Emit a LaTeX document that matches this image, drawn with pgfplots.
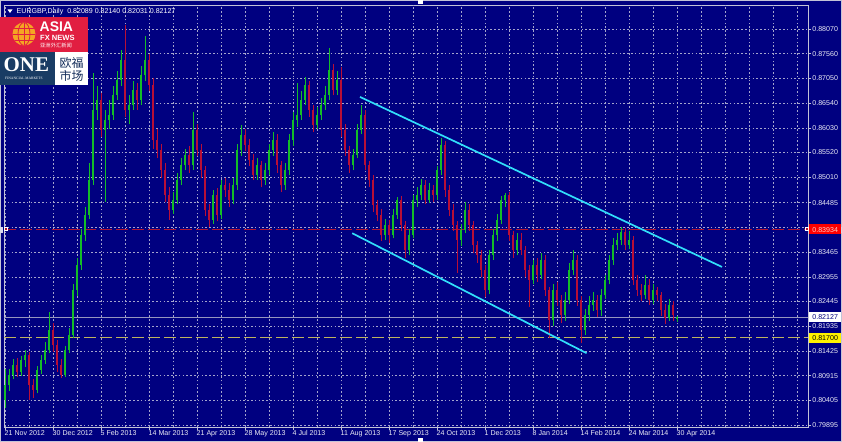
\documentclass[border=0pt]{standalone}
\usepackage{fontspec}
\setmainfont{Liberation Sans}
\newfontfamily\cjk{Noto Sans CJK SC}
\newfontfamily\serifx{Liberation Serif}
\usepackage{pgfplots}
\usepackage{pgfplotstable}
\pgfplotsset{compat=1.18}
\definecolor{bg}{RGB}{0,0,128}
\definecolor{upg}{RGB}{20,190,40}
\definecolor{dnr}{RGB}{185,15,55}
\definecolor{gridc}{RGB}{165,165,205}
\definecolor{framec}{RGB}{195,195,215}
\definecolor{lab}{RGB}{235,235,245}
\definecolor{chan}{RGB}{50,222,250}
\definecolor{redl}{RGB}{175,20,50}
\definecolor{yel}{RGB}{190,180,95}
\definecolor{curp}{RGB}{150,150,190}
\definecolor{logored}{RGB}{225,30,65}
\definecolor{globe}{RGB}{245,165,35}
\definecolor{onenavy}{RGB}{25,60,100}
\definecolor{cjknavy}{RGB}{20,45,90}

\pgfplotstableread{
x L H lo hi
0 0.8025 0.8105 0.8041 0.8072
1 0.8060 0.8105 0.8072 0.8093
2 0.8085 0.8125 0.8093 0.8114
4 0.8090 0.8133 0.8099 0.8124
5 0.8110 0.8145 0.8124 0.8134
8 0.8055 0.8112 0.8062 0.8103
9 0.8095 0.8135 0.8103 0.8124
10 0.8115 0.8160 0.8124 0.8145
11 0.8138 0.8223 0.8145 0.8186
15 0.8088 0.8152 0.8093 0.8145
16 0.8138 0.8190 0.8145 0.8176
17 0.8170 0.8280 0.8176 0.8268
18 0.8255 0.8335 0.8268 0.8320
19 0.8310 0.8395 0.8320 0.8382
20 0.8370 0.8440 0.8382 0.8423
21 0.8415 0.8530 0.8423 0.8495
22 0.8485 0.8716 0.8495 0.8640
23 0.8620 0.8690 0.8640 0.8661
25 0.8450 0.8640 0.8599 0.8619
26 0.8600 0.8660 0.8619 0.8630
27 0.8620 0.8690 0.8630 0.8671
28 0.8660 0.8720 0.8671 0.8702
29 0.8690 0.8764 0.8702 0.8743
31 0.8610 0.8670 0.8640 0.8650
32 0.8640 0.8700 0.8650 0.8681
34 0.8650 0.8730 0.8661 0.8712
35 0.8700 0.8793 0.8712 0.8743
42 0.8425 0.8470 0.8434 0.8454
43 0.8445 0.8510 0.8454 0.8495
44 0.8485 0.8540 0.8495 0.8526
45 0.8515 0.8560 0.8526 0.8547
47 0.8515 0.8636 0.8526 0.8599
52 0.8405 0.8475 0.8413 0.8464
54 0.8415 0.8495 0.8423 0.8485
57 0.8445 0.8500 0.8454 0.8485
58 0.8475 0.8570 0.8485 0.8557
59 0.8545 0.8609 0.8557 0.8588
63 0.8495 0.8540 0.8506 0.8526
65 0.8485 0.8530 0.8495 0.8516
66 0.8505 0.8570 0.8516 0.8557
67 0.8545 0.8595 0.8557 0.8578
70 0.8475 0.8530 0.8485 0.8516
71 0.8505 0.8590 0.8516 0.8578
72 0.8565 0.8635 0.8578 0.8619
73 0.8605 0.8696 0.8619 0.8630
74 0.8620 0.8680 0.8630 0.8661
75 0.8650 0.8708 0.8661 0.8692
78 0.8600 0.8645 0.8609 0.8630
79 0.8620 0.8665 0.8630 0.8650
80 0.8640 0.8690 0.8650 0.8671
81 0.8660 0.8768 0.8671 0.8722
83 0.8670 0.8720 0.8681 0.8702
87 0.8515 0.8560 0.8526 0.8547
88 0.8540 0.8610 0.8547 0.8599
89 0.8590 0.8650 0.8599 0.8630
95 0.8372 0.8415 0.8382 0.8403
97 0.8375 0.8435 0.8382 0.8423
98 0.8415 0.8460 0.8423 0.8454
101 0.8340 0.8395 0.8351 0.8382
102 0.8375 0.8465 0.8382 0.8454
103 0.8440 0.8480 0.8454 0.8464
104 0.8455 0.8498 0.8464 0.8485
106 0.8448 0.8490 0.8454 0.8475
108 0.8455 0.8525 0.8464 0.8516
109 0.8505 0.8582 0.8516 0.8568
114 0.8360 0.8405 0.8372 0.8392
115 0.8385 0.8450 0.8392 0.8434
121 0.8260 0.8350 0.8268 0.8341
122 0.8330 0.8395 0.8341 0.8382
123 0.8370 0.8425 0.8382 0.8413
124 0.8405 0.8462 0.8413 0.8454
125 0.8440 0.8469 0.8454 0.8464
128 0.8340 0.8385 0.8351 0.8372
132 0.8280 0.8330 0.8289 0.8320
134 0.8290 0.8345 0.8299 0.8330
137 0.8195 0.8280 0.8206 0.8268
140 0.8205 0.8265 0.8217 0.8248
141 0.8240 0.8325 0.8248 0.8310
142 0.8300 0.8351 0.8310 0.8330
145 0.8175 0.8230 0.8186 0.8217
146 0.8205 0.8255 0.8217 0.8237
147 0.8225 0.8265 0.8237 0.8248
149 0.8215 0.8270 0.8227 0.8258
150 0.8250 0.8300 0.8258 0.8289
151 0.8280 0.8340 0.8289 0.8330
152 0.8320 0.8375 0.8330 0.8361
153 0.8350 0.8385 0.8361 0.8372
154 0.8362 0.8398 0.8372 0.8388
156 0.8352 0.8390 0.8361 0.8372
160 0.8250 0.8299 0.8258 0.8279
162 0.8240 0.8280 0.8248 0.8268
166 0.8205 0.8250 0.8211 0.8237
168 0.82031 0.82140 0.82089 0.82127
}\up

\pgfplotstableread{
x L H lo hi
3 0.8088 0.8128 0.8099 0.8114
6 0.8041 0.8140 0.8072 0.8134
7 0.8045 0.8085 0.8062 0.8072
12 0.8140 0.8200 0.8155 0.8186
13 0.8100 0.8165 0.8114 0.8155
14 0.8087 0.8125 0.8093 0.8114
24 0.8585 0.8675 0.8599 0.8661
30 0.8625 0.8815 0.8640 0.8743
33 0.8640 0.8695 0.8661 0.8681
36 0.8680 0.8755 0.8692 0.8743
37 0.8560 0.8705 0.8578 0.8692
38 0.8540 0.8600 0.8557 0.8578
39 0.8500 0.8570 0.8516 0.8557
40 0.8450 0.8530 0.8464 0.8516
41 0.8413 0.8480 0.8434 0.8464
46 0.8510 0.8565 0.8526 0.8547
48 0.8545 0.8610 0.8557 0.8599
49 0.8500 0.8570 0.8516 0.8557
50 0.8420 0.8525 0.8434 0.8516
51 0.8398 0.8445 0.8413 0.8434
53 0.8410 0.8478 0.8423 0.8464
55 0.8460 0.8500 0.8475 0.8485
56 0.8440 0.8490 0.8454 0.8475
60 0.8555 0.8600 0.8568 0.8588
61 0.8525 0.8580 0.8537 0.8568
62 0.8495 0.8550 0.8506 0.8537
64 0.8480 0.8535 0.8495 0.8526
68 0.8510 0.8590 0.8526 0.8578
69 0.8470 0.8535 0.8485 0.8526
76 0.8625 0.8700 0.8640 0.8692
77 0.8595 0.8650 0.8609 0.8640
82 0.8670 0.8735 0.8681 0.8722
84 0.8585 0.8729 0.8599 0.8702
85 0.8545 0.8610 0.8557 0.8599
86 0.8510 0.8565 0.8526 0.8557
90 0.8515 0.8640 0.8526 0.8630
91 0.8480 0.8535 0.8495 0.8526
92 0.8430 0.8505 0.8444 0.8495
93 0.8410 0.8455 0.8423 0.8444
94 0.8370 0.8435 0.8382 0.8423
96 0.8365 0.8412 0.8382 0.8403
99 0.8390 0.8462 0.8403 0.8454
100 0.8334 0.8410 0.8351 0.8403
105 0.8445 0.8495 0.8454 0.8485
107 0.8450 0.8485 0.8464 0.8475
110 0.8460 0.8575 0.8475 0.8568
111 0.8420 0.8485 0.8434 0.8475
112 0.8390 0.8445 0.8403 0.8434
113 0.8303 0.8410 0.8372 0.8403
116 0.8390 0.8445 0.8403 0.8434
117 0.8345 0.8410 0.8361 0.8403
118 0.8325 0.8370 0.8341 0.8361
119 0.8295 0.8350 0.8310 0.8341
120 0.8254 0.8320 0.8268 0.8310
126 0.8370 0.8470 0.8382 0.8464
127 0.8335 0.8390 0.8351 0.8382
129 0.8340 0.8385 0.8351 0.8372
130 0.8295 0.8360 0.8310 0.8351
131 0.8233 0.8320 0.8289 0.8310
133 0.8285 0.8335 0.8299 0.8320
135 0.8255 0.8340 0.8268 0.8330
136 0.8169 0.8275 0.8206 0.8268
138 0.8235 0.8285 0.8248 0.8268
139 0.8200 0.8258 0.8217 0.8248
143 0.8235 0.8340 0.8248 0.8330
144 0.8159 0.8255 0.8186 0.8248
148 0.8212 0.8258 0.8227 0.8248
155 0.8350 0.8396 0.8361 0.8388
157 0.8278 0.8380 0.8289 0.8372
158 0.8255 0.8300 0.8268 0.8289
159 0.8245 0.8280 0.8258 0.8268
161 0.8238 0.8290 0.8248 0.8279
163 0.8245 0.8275 0.8258 0.8268
164 0.8215 0.8265 0.8227 0.8258
165 0.8198 0.8240 0.8211 0.8227
167 0.8205 0.8245 0.8217 0.8237
}\dn

\newcommand{\sm}{\fontsize{7.1}{8}\selectfont}

\begin{document}
\begin{tikzpicture}
\fill[bg] (0,0) rectangle (842bp,442bp);
\useasboundingbox (0,0) rectangle (842bp,442bp);
\begin{axis}[
  at={(4bp,15bp)}, anchor=south west,
  scale only axis, width=804bp, height=422bp,
  xmin=-0.25, xmax=200.75, ymin=0.798553, ymax=0.885654,
  clip=false,
  axis line style={draw=framec, line width=0.8bp},
  ytick={0.79895,0.80405,0.80915,0.81425,0.81935,0.82445,0.82955,0.83465,0.84485,0.85010,0.85520,0.86030,0.86540,0.87050,0.87560,0.88070},
  yticklabels={0.79895,0.80405,0.80915,0.81425,0.81935,0.82445,0.82955,0.83465,0.84485,0.85010,0.85520,0.86030,0.86540,0.87050,0.87560,0.88070},
  extra y ticks={0.83975}, extra y tick labels={},
  extra y tick style={grid=major},
  ytick pos=right, xtick pos=bottom,
  tick align=outside, major tick length=3bp,
  tick style={draw=framec, line width=0.6bp},
  xtick={0,12,...,168},
  xticklabels={21 Nov 2012,30 Dec 2012,5 Feb 2013,14 Mar 2013,21 Apr 2013,28 May 2013,4 Jul 2013,11 Aug 2013,17 Sep 2013,24 Oct 2013,1 Dec 2013,8 Jan 2014,14 Feb 2014,24 Mar 2014,30 Apr 2014},
  extra x ticks={6,18,30,42,54,66,78,90,102,114,126,138,150,162,174,180,186,192,198},
  extra x tick labels={},
  extra x tick style={major tick length=0pt, grid=major},
  grid=major,
  major grid style={draw=gridc, dash pattern=on 1.6bp off 2.2bp, line width=0.6bp},
  yticklabel style={font=\sm, text=lab, anchor=west, inner sep=0pt, xshift=1.2bp},
  xticklabel style={font=\sm, text=lab, anchor=north west, inner sep=0pt, xshift=-0.5bp, yshift=-0.5bp},
  scaled y ticks=false,
]
% reference lines
\addplot[redl, line width=1.1bp, dash pattern=on 12bp off 4bp, forget plot] coordinates {(-0.25,0.83934) (200.75,0.83934)};
\addplot[yel, line width=1.1bp, dash pattern=on 12bp off 4bp, forget plot] coordinates {(-0.25,0.81700) (200.75,0.81700)};
\addplot[curp, line width=0.7bp, forget plot] coordinates {(-0.25,0.82127) (200.75,0.82127)};
% wicks
\addplot[forget plot, draw=none, mark=none, error bars/.cd, y dir=plus, y explicit, error mark=none, error bar style={draw=upg, line width=0.8bp}]
  table[x=x, y=L, y error plus expr={\thisrow{H}-\thisrow{L}}] {\up};
\addplot[forget plot, draw=none, mark=none, error bars/.cd, y dir=plus, y explicit, error mark=none, error bar style={draw=dnr, line width=0.8bp}]
  table[x=x, y=L, y error plus expr={\thisrow{H}-\thisrow{L}}] {\dn};
% bodies
\addplot[forget plot, draw=none, mark=none, error bars/.cd, y dir=plus, y explicit, error mark=none, error bar style={draw=upg, line width=2.1bp}]
  table[x=x, y=lo, y error plus expr={\thisrow{hi}-\thisrow{lo}}] {\up};
\addplot[forget plot, draw=none, mark=none, error bars/.cd, y dir=plus, y explicit, error mark=none, error bar style={draw=dnr, line width=2.1bp}]
  table[x=x, y=lo, y error plus expr={\thisrow{hi}-\thisrow{lo}}] {\dn};
% channel
\addplot[chan, line width=1.7bp, forget plot] coordinates {(88.75,0.86668) (179.25,0.83159)};
\addplot[chan, line width=1.7bp, forget plot] coordinates {(86.8,0.83855) (145.4,0.81378)};
\end{axis}

\begin{scope}[x=1bp, y=-1bp, yshift=442bp]
% window border
\draw[framec, line width=1.2bp] (0.6,0.6) rectangle (841.4,441.4);
\fill[white] (418,0) rectangle (423,4);
\fill[white] (418,438) rectangle (423,442);
\fill[white!85!bg] (0,227) rectangle (3,233);
\fill[white!85!bg] (838,227) rectangle (842,233);
% red line end markers
\draw[white, line width=0.6bp, fill=redl] (4,227.5) rectangle (7,230.5);
\draw[white, line width=0.6bp, fill=redl] (805,227.5) rectangle (808,230.5);
% price labels
\fill[red] (809,224.5) rectangle (841,234.5);
\node[anchor=west, inner sep=0pt, font=\sm, text=white!80!red] at (812.2,229.6) {0.83934};
\fill[white] (809,312) rectangle (841,322);
\node[anchor=west, inner sep=0pt, font=\sm, text=bg] at (812.2,317.1) {0.82127};
\fill[yellow] (809,333) rectangle (841,343);
\node[anchor=west, inner sep=0pt, font=\sm, text=black] at (812.2,338.1) {0.81700};
% title
\fill[white] (7.5,9.5) -- (12.5,9.5) -- (10,13) -- cycle;
\node[anchor=west, inner sep=0pt, font=\sm, text=white] at (16.5,11.6) {EURGBP,Daily\ \ 0.82089 0.82140 0.82031 0.82127};
% logo
\fill[logored] (0,17) rectangle (88,52);
\fill[globe] (24,34) circle (11.5);
\begin{scope}
\clip (24,34) circle (11.5);
\draw[logored, line width=0.8bp] (24,20) -- (24,48);
\draw[logored, line width=0.8bp] (10,34) -- (38,34);
\draw[logored, line width=0.8bp] (10,28) -- (38,28);
\draw[logored, line width=0.8bp] (10,40) -- (38,40);
\draw[logored, line width=0.8bp] (24,34) ellipse (6 and 11.5);
\end{scope}
\node[anchor=west, inner sep=0pt, text=white, font=\fontsize{14}{14}\selectfont\bfseries] at (39.5,26.3) {ASIA};
\node[anchor=west, inner sep=0pt, text=white, font=\fontsize{7.6}{8}\selectfont\bfseries] at (40,37.4) {FX NEWS};
\node[anchor=west, inner sep=0pt, text=white, font=\cjk\fontsize{5.3}{6}\selectfont] at (40,45.6) {亚洲外汇新闻};
\fill[onenavy] (0,52) rectangle (55,85);
\fill[white] (55,52) rectangle (88,85);
\node[anchor=west, inner sep=0pt, text=white, font=\serifx\fontsize{21}{21}\selectfont\bfseries] at (3.5,65) {ONE};
\node[anchor=west, inner sep=0pt, text=white, font=\serifx\fontsize{3.6}{4}\selectfont] at (5,78.5) {FINANCIAL MARKETS};
\node[inner sep=0pt, text=cjknavy, font=\cjk\fontsize{12}{12}\selectfont] at (71.5,62.5) {欧福};
\node[inner sep=0pt, text=cjknavy, font=\cjk\fontsize{12}{12}\selectfont] at (71.5,75.5) {市场};
\end{scope}
\end{tikzpicture}
\end{document}
